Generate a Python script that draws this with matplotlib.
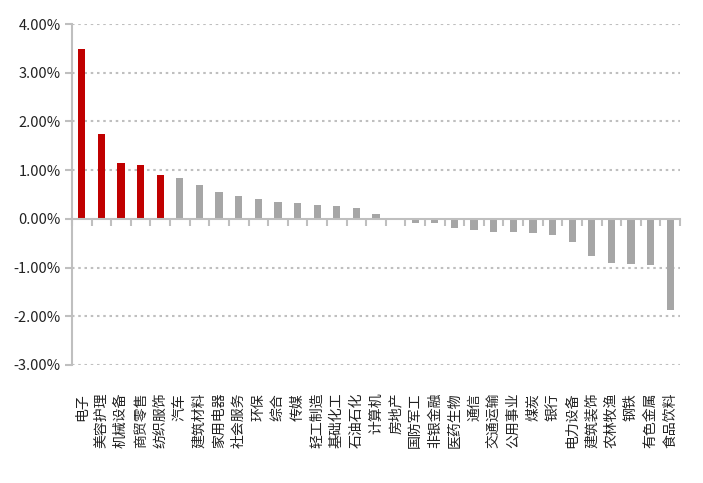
import matplotlib
matplotlib.use('Agg')
import matplotlib.pyplot as plt
from matplotlib.ticker import FuncFormatter, FixedLocator

plt.rcParams['font.family'] = ['Noto Sans CJK SC', 'DejaVu Sans']

# 行业涨跌幅（%）
industries = ['电子', '美容护理', '机械设备', '商贸零售', '纺织服饰', '汽车', '建筑材料', '家用电器',
              '社会服务', '环保', '综合', '传媒', '轻工制造', '基础化工', '石油石化', '计算机',
              '房地产', '国防军工', '非银金融', '医药生物', '通信', '交通运输', '公用事业', '煤炭',
              '银行', '电力设备', '建筑装饰', '农林牧渔', '钢铁', '有色金属', '食品饮料']
returns = [3.48, 1.74, 1.14, 1.10, 0.90, 0.84, 0.69, 0.55,
           0.47, 0.40, 0.34, 0.32, 0.28, 0.26, 0.22, 0.10,
           0.00, -0.08, -0.08, -0.18, -0.23, -0.27, -0.27, -0.29,
           -0.33, -0.47, -0.76, -0.90, -0.92, -0.94, -1.87]
n_highlight = 5

red = '#C00000'
gray = '#A6A6A6'
axis_gray = '#BFBFBF'

fig = plt.figure(figsize=(7.03, 4.83), dpi=100)
ax = fig.add_axes([72 / 703, (483 - 365) / 483, 608 / 703, 341 / 483])

x = list(range(len(industries)))
colors = [red if i < n_highlight else gray for i in x]
ax.bar(x, returns, width=0.37, color=colors, zorder=3)

ax.set_xlim(-0.5, len(industries) - 0.5)
ax.set_ylim(-3, 4)
ax.set_yticks(range(-3, 5))
ax.yaxis.set_major_formatter(FuncFormatter(lambda v, p: f'{v:.2f}%'))
ax.tick_params(axis='y', direction='out', length=5, width=1.5, color=axis_gray,
               labelsize=10.5, labelcolor='#222222', pad=3)

# 网格线
for v in range(-3, 5):
    if v != 0:
        ax.axhline(v, color=axis_gray, linestyle=(0, (1.2, 1.8)), linewidth=1.5, zorder=1)

for s in ['top', 'right']:
    ax.spines[s].set_visible(False)
ax.spines['left'].set_color(axis_gray)
ax.spines['left'].set_linewidth(1.5)
ax.spines['bottom'].set_position(('data', 0))
ax.spines['bottom'].set_color(axis_gray)
ax.spines['bottom'].set_linewidth(1.5)
ax.spines['bottom'].set_zorder(4)

# 零轴上的分隔刻度
ax.xaxis.set_major_locator(FixedLocator([i - 0.5 for i in range(len(industries) + 1)]))
ax.tick_params(axis='x', direction='out', length=5, width=1.5, color=axis_gray, labelbottom=False)

# 类别标签
sec = ax.secondary_xaxis('bottom')
sec.set_xticks(x)
sec.set_xticklabels(industries, rotation=90, va='top', ha='center', fontsize=10, color='#222222')
sec.tick_params(length=0, pad=20)
sec.spines['bottom'].set_visible(False)

fig.savefig('out.png', dpi=100)
